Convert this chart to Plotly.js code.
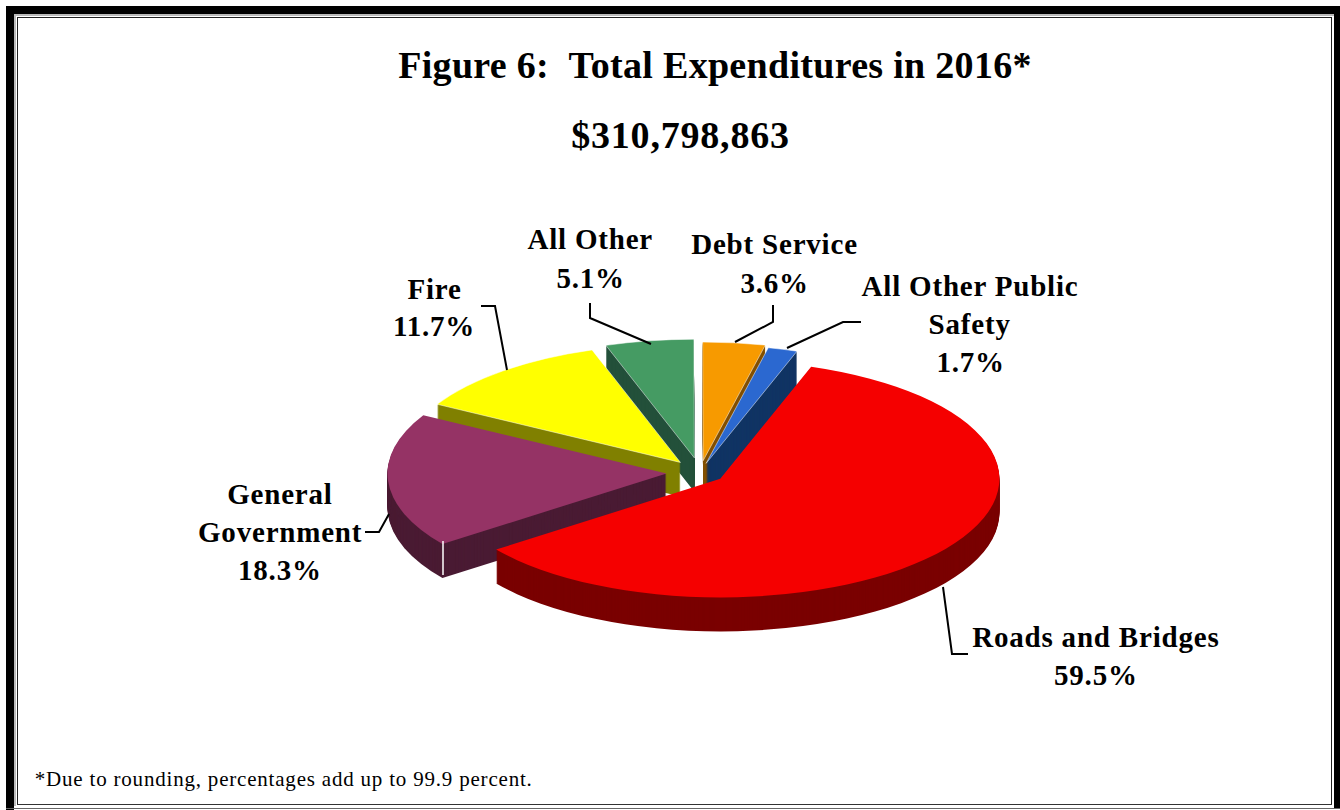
<!DOCTYPE html>
<html><head><meta charset="utf-8">
<script src="https://cdn.plot.ly/plotly-3.0.1.min.js"></script>
<style>html,body{margin:0;padding:0;background:#fff;overflow:hidden}#chart{width:1340px;height:810px}</style>
</head><body><div id="chart"></div>
<script>
const categories = ["Roads and Bridges","General Government","Fire","All Other","Debt Service","All Other Public Safety"];
const shares = [59.5,18.3,11.7,5.1,3.6,1.7];
const topColors = ["#F50000","#953365","#FFFF00","#459B63","#F79A00","#2B68D0"];
const wallColors = ["#7A0000","#4A1B33","#808000","#23503A","#835000","#113464"];
const explode = [0.09,0.12,0.11,0.125,0.10,0.08];
const edgeWidths = [0,0,0.7,0.7,0.7,0.7];
const labelLines = [["Roads and Bridges"],["General","Government"],["Fire"],["All Other"],["Debt Service"],["All Other Public","Safety"]];
const W=1340,H=810,tilt=0.425,cx=700,cy=472.5,depth=34,domH=628,y0=372;
const px=x=>x/W, py=y=>1-y/H;
const traces=[];
for(let k=depth;k>=0;k--){
  const c=y0+k/tilt;
  traces.push({type:'pie',values:shares,labels:categories,sort:false,direction:'clockwise',rotation:19,
    pull:explode,textinfo:'none',hoverinfo:'skip',showlegend:false,
    marker:{colors:k===0?topColors:wallColors,line:{width:k===0?edgeWidths:0,color:'#fff'}},
    domain:{x:[px(cx-340),px(cx+340)],y:[py(c+domH/2),py(c-domH/2)]}});
}
const labelPos=[[1096,636.5],[280,494],[434,288.5],[590,239.5],[774,244.5],[970,285.5]];
const ann=[],spacing=[];
const font=(s)=>({family:'"Liberation Serif","Times New Roman",serif',size:s,color:'#000'});
function t(text,x,y,size,sp){ann.push({text,x:px(x),y:py(y),xref:'paper',yref:'paper',xanchor:'center',yanchor:'middle',showarrow:false,font:font(size)});spacing.push(sp);}
t("<b>$310,798,863</b>",681,134.5,38,0.8);
categories.forEach((c,i)=>{
  const [x,y]=labelPos[i];
  const lines=labelLines[i].concat([shares[i].toFixed(1)+"%"]);
  lines.forEach((l,j)=>t("<b>"+l+"</b>",x,y+j*38,29,0.8));
});
t("*Due to rounding, percentages add up to 99.9 percent.",283.5,779,21,0.8);
const leaders=[
 [[943,587],[952,654],[968,654]],
 [[389,514],[379,532],[365,532]],
 [[507,370],[495,306],[481,306]],
 [[651,344],[590,318],[590,303]],
 [[735,342],[773,322],[773,305]],
 [[787,348],[843,322],[861,322]]];
const shapes=leaders.map(p=>({type:'path',xref:'paper',yref:'paper',
  path:'M'+p.map(q=>px(q[0])+','+py(q[1])).join('L'),line:{color:'#000',width:2}}));
shapes.push({type:'line',xref:'paper',yref:'paper',x0:px(443),x1:px(443),y0:py(541),y1:py(575),line:{color:'#fff',width:1.5}});
const rect=(x0,y0r,x1,y1,fill)=>({type:'rect',xref:'paper',yref:'paper',x0:px(x0),x1:px(x1),y0:py(y0r),y1:py(y1),fillcolor:fill,line:{width:0},layer:'below'});
shapes.push(rect(6,6,1340,14,'#000'),rect(6,6,14,810,'#000'),rect(1334,6,1340,808,'#000'),
  rect(14,14,1334,16,'#bbb'),rect(14,14,16,806,'#bbb'),
  rect(17,17,1332,18,'#222'),rect(17,17,18,805,'#222'),rect(1331,17,1332,805,'#222'),rect(17,804,1332,805,'#333'),rect(6,808,1340,809,'#666'));
Plotly.newPlot('chart',traces,{width:W,height:H,margin:{l:0,r:0,t:0,b:0},paper_bgcolor:'#fff',plot_bgcolor:'#fff',
  title:{text:"<b>Figure 6:\u00a0\u00a0Total Expenditures in 2016*</b>",x:715/W,xanchor:'center',y:1-65/H,yanchor:'middle',font:font(38)},
  annotations:ann,shapes:shapes},{displayModeBar:false,staticPlot:true}).then(gd=>{
  gd.querySelector('.pielayer').setAttribute('transform','translate(0,'+(cy-tilt*y0)+') scale(1,'+tilt+')');
  gd.querySelectorAll('.annotation-text').forEach((el,i)=>{el.style.letterSpacing=spacing[i]+'px';});
  const tt=gd.querySelector('.gtitle'); if(tt) tt.style.letterSpacing='0.3px';
});
</script></body></html>
